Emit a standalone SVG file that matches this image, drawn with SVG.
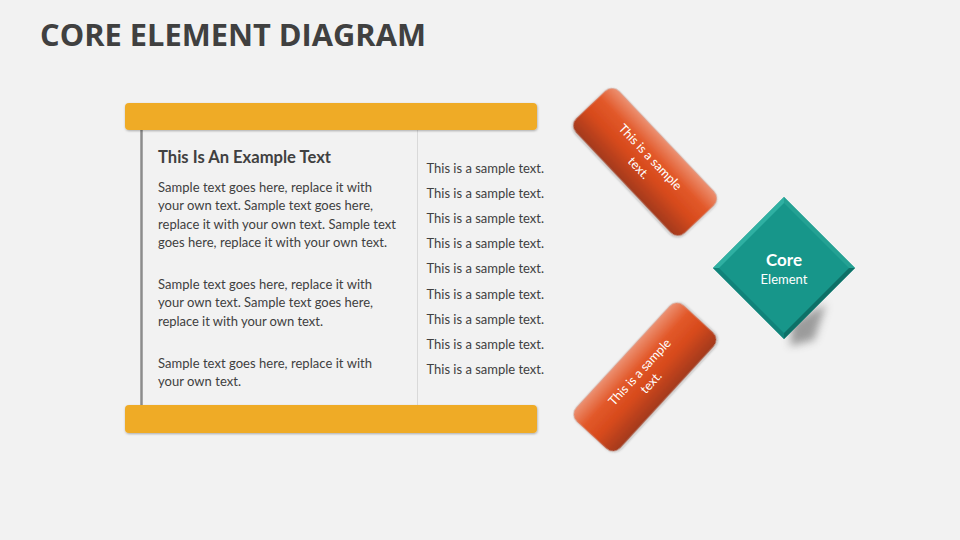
<svg xmlns="http://www.w3.org/2000/svg" width="960" height="540" viewBox="0 0 960 540">
<defs>
<style>
.title{font-family:"Open Sans","Liberation Sans",sans-serif;font-weight:700;font-size:31px;fill:#404040}
.h{font-family:Lato,"Liberation Sans",sans-serif;font-weight:700;font-size:16.5px;fill:#404040}
.b{font-family:Lato,"Liberation Sans",sans-serif;font-size:13px;fill:#404040}
.w{font-family:Lato,"Liberation Sans",sans-serif;font-size:12.5px;fill:#ffffff;text-anchor:middle}
.bar{fill:#efab28}
</style>
<filter id="sh" x="-10%" y="-30%" width="120%" height="160%">
<feDropShadow dx="0.5" dy="1" stdDeviation="1.2" flood-color="#000" flood-opacity="0.3"/>
</filter>
<filter id="blur" x="-50%" y="-50%" width="200%" height="200%">
<feGaussianBlur stdDeviation="4.5"/>
</filter>
<linearGradient id="og" x1="0" y1="0" x2="0" y2="1">
<stop offset="0" stop-color="#ec9173"/>
<stop offset="0.3" stop-color="#e2592a"/>
<stop offset="0.6" stop-color="#d74a1c"/>
<stop offset="1" stop-color="#a2391b"/>
</linearGradient>
</defs>
<rect width="960" height="540" fill="#f2f2f2"/>
<text class="title" x="40" y="46" textLength="386" lengthAdjust="spacingAndGlyphs">CORE ELEMENT DIAGRAM</text>

<g id="panel">
<line x1="141.5" y1="128" x2="141.5" y2="406" stroke="#8c8c8c" stroke-width="2.5"/>
<line x1="417.5" y1="130" x2="417.5" y2="405" stroke="#d9d9d9" stroke-width="1"/>
<rect class="bar" x="125" y="103" width="412" height="27" rx="4" filter="url(#sh)"/>
<rect class="bar" x="125" y="405" width="412" height="28" rx="4" filter="url(#sh)"/>
<text class="h" x="158" y="163" textLength="173" lengthAdjust="spacingAndGlyphs">This Is An Example Text</text>
<text class="b" x="158" y="192" textLength="214" lengthAdjust="spacing">Sample text goes here, replace it with</text>
<text class="b" x="158" y="210" textLength="215" lengthAdjust="spacing">your own text. Sample text goes here,</text>
<text class="b" x="158" y="228.5" textLength="238" lengthAdjust="spacing">replace it with your own text. Sample text</text>
<text class="b" x="158" y="246.5" textLength="229" lengthAdjust="spacing">goes here, replace it with your own text.</text>
<text class="b" x="158" y="288.5" textLength="214" lengthAdjust="spacing">Sample text goes here, replace it with</text>
<text class="b" x="158" y="307" textLength="215" lengthAdjust="spacing">your own text. Sample text goes here,</text>
<text class="b" x="158" y="325.5" textLength="165" lengthAdjust="spacing">replace it with your own text.</text>
<text class="b" x="158" y="367.5" textLength="214" lengthAdjust="spacing">Sample text goes here, replace it with</text>
<text class="b" x="158" y="386" textLength="83" lengthAdjust="spacing">your own text.</text>
<g id="list">
<text class="b" x="426.5" y="173" textLength="117.5" lengthAdjust="spacing">This is a sample text.</text>
<text class="b" x="426.5" y="198" textLength="117.5" lengthAdjust="spacing">This is a sample text.</text>
<text class="b" x="426.5" y="223" textLength="117.5" lengthAdjust="spacing">This is a sample text.</text>
<text class="b" x="426.5" y="248" textLength="117.5" lengthAdjust="spacing">This is a sample text.</text>
<text class="b" x="426.5" y="273" textLength="117.5" lengthAdjust="spacing">This is a sample text.</text>
<text class="b" x="426.5" y="298.5" textLength="117.5" lengthAdjust="spacing">This is a sample text.</text>
<text class="b" x="426.5" y="323.5" textLength="117.5" lengthAdjust="spacing">This is a sample text.</text>
<text class="b" x="426.5" y="348.5" textLength="117.5" lengthAdjust="spacing">This is a sample text.</text>
<text class="b" x="426.5" y="374" textLength="117.5" lengthAdjust="spacing">This is a sample text.</text>
</g>
</g>

<g id="connectors"></g>

<g id="card-top" transform="translate(645 162) rotate(46.6)">
<rect x="-79" y="-30" width="158" height="60" rx="10" fill="url(#og)" stroke="#c9b7ae" stroke-width="0.6" filter="url(#sh)"/>
<text class="w" x="0" y="-3">This is a sample</text>
<text class="w" x="0" y="13">text.</text>
</g>

<g id="card-bottom" transform="translate(645 377) rotate(-47.4)">
<rect x="-79" y="-30" width="158" height="60" rx="10" fill="url(#og)" stroke="#c9b7ae" stroke-width="0.6" filter="url(#sh)"/>
<text class="w" x="0" y="-3">This is a sample</text>
<text class="w" x="0" y="12.5">text.</text>
</g>

<g id="core">
<polygon points="792,322 826,304 814,340 790,346" fill="#555" opacity="0.55" filter="url(#blur)"/>
<polygon points="784,197 855,268 784,339 713,268" fill="#17968a"/>
<polygon points="713,268 784,197 784,203 719,268" fill="#2fb0a2"/>
<polygon points="784,197 855,268 849,268 784,203" fill="#24a193"/>
<polygon points="855,268 784,339 784,333 849,268" fill="#0d7067"/>
<polygon points="784,339 713,268 719,268 784,333" fill="#11837a"/>
<text x="784" y="266" text-anchor="middle" style="font-family:Lato,'Liberation Sans',sans-serif;font-weight:700;font-size:17px;fill:#fff">Core</text>
<text x="784" y="284" text-anchor="middle" style="font-family:Lato,'Liberation Sans',sans-serif;font-size:13px;fill:#fff">Element</text>
</g>
</svg>
